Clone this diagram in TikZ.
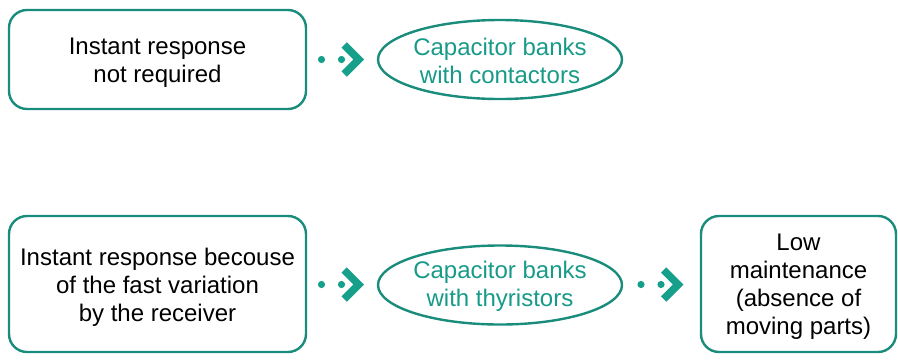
\documentclass[tikz,border=0pt]{standalone}
\usepackage{fontspec}
\setmainfont{Liberation Sans}
\usetikzlibrary{shapes.geometric,decorations.markings}
\definecolor{tealline}{HTML}{1A8C7C}
\definecolor{tealmark}{HTML}{16A08C}
\definecolor{tealtext}{HTML}{189A88}
\tikzset{
  txt/.style={font=\fontsize{24}{28}\selectfont, align=center, inner sep=0pt},
  rbox/.style={draw=tealline, line width=2.4pt, rounded corners=18pt, inner sep=0pt},
  oval/.style={ellipse, draw=tealline, line width=2.4pt, inner sep=0pt, minimum width=244pt, minimum height=79pt},
  dotchev/.pic={
    \fill[tealmark] (-20.5pt,0pt) circle (3.6pt);
    \fill[tealmark] (-0.5pt,0pt) circle (3.6pt);
    \draw[tealmark, line width=7.5pt, miter limit=10, line join=miter, line cap=butt] (2.2pt,-14.5pt) -- (16.7pt,0pt) -- (2.2pt,14.5pt);},
  conn/.style={postaction={decorate}, decoration={markings,
    mark=at position 0.5 with {\pic {dotchev};}}}
}
\begin{document}
\begin{tikzpicture}[x=1pt,y=-1pt]
\useasboundingbox (0,0) rectangle (898,360);
\node[rbox, minimum width=297pt, minimum height=99pt] (b1) at (157.5,59.5) {};
\node[txt, text=black] (t1) at ([yshift=-3pt]b1.center) {Instant response\\not required};
\node[oval] (e1) at (500,59.5) {};
\node[txt, text=tealtext] (t2) at ([yshift=-1pt]e1.center) {Capacitor banks\\with contactors};
\node[rbox, minimum width=297pt, minimum height=136pt] (b2) at (157.5,284) {};
\node[txt, text=black] (t3) at ([yshift=-3pt]b2.center) {Instant response becouse\\of the fast variation\\by the receiver};
\node[oval] (e2) at (500,285) {};
\node[txt, text=tealtext] (t4) at ([yshift=-1pt]e2.center) {Capacitor banks\\with thyristors};
\node[rbox, minimum width=195pt, minimum height=136pt] (b3) at (798.5,284) {};
\node[txt, text=black] (t5) at ([yshift=-2.5pt]b3.center) {Low\\maintenance\\(absence of\\moving parts)};
\path[conn] (b1.east) -- (e1.west);
\path[conn] (b2.east) -- (e2.west);
\path[conn] (e2.east) -- (b3.west);
\end{tikzpicture}
\end{document}
